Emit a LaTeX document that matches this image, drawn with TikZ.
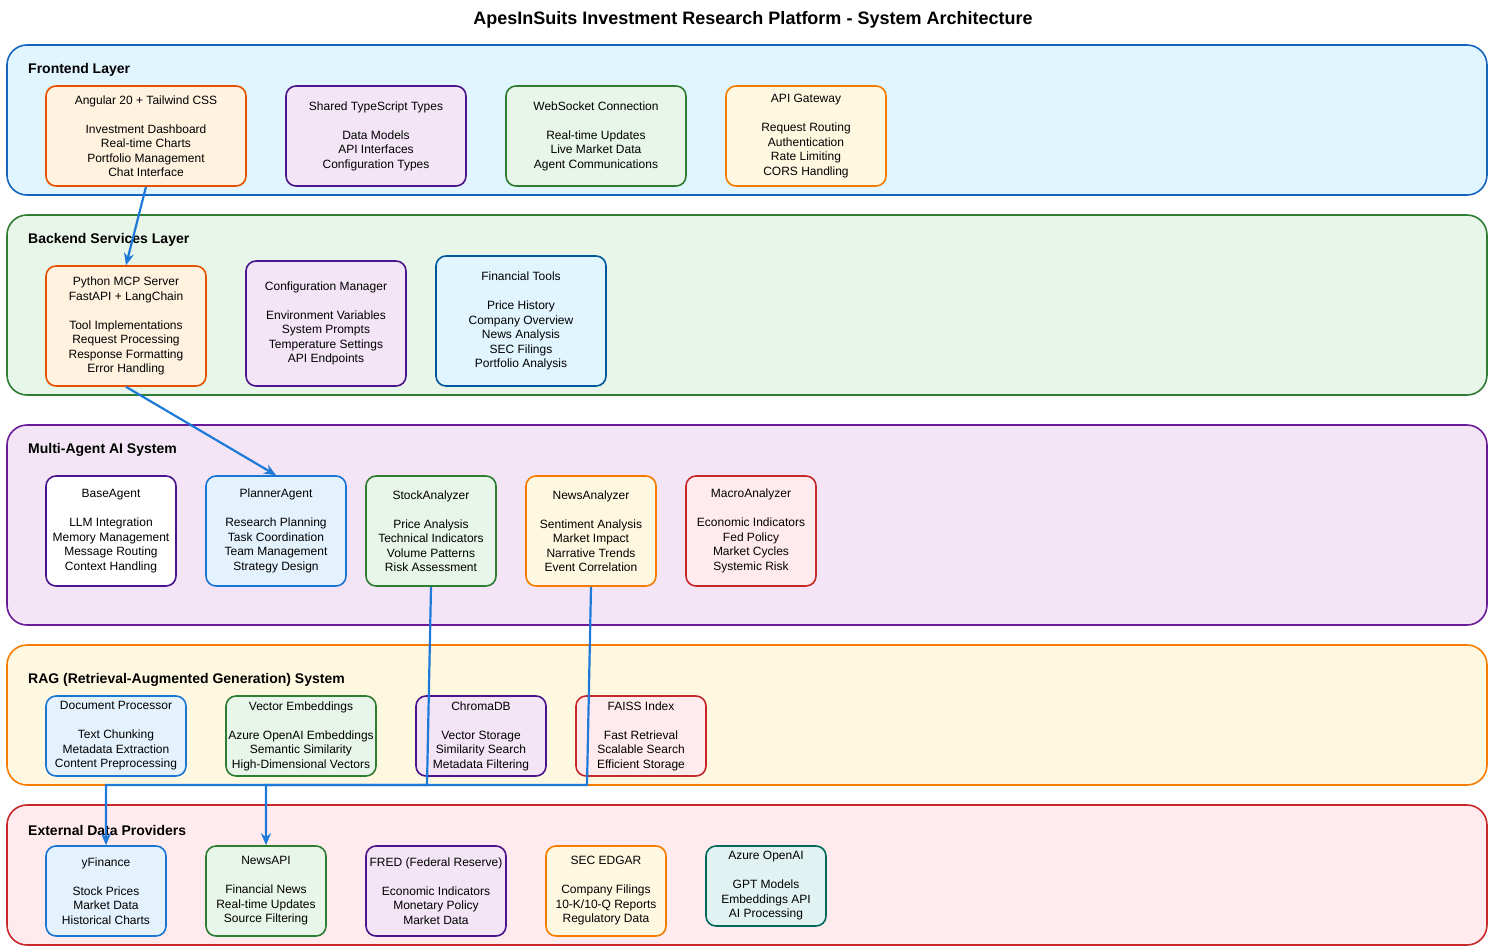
\documentclass[tikz,border=0pt]{standalone}
\usepackage{fontspec}
\setmainfont{Liberation Sans}
\usetikzlibrary{arrows.meta}

% layer colours
\definecolor{feF}{HTML}{E1F5FE}\definecolor{feB}{HTML}{1565C0}
\definecolor{beF}{HTML}{E8F5E9}\definecolor{beB}{HTML}{2E7D32}
\definecolor{maF}{HTML}{F3E5F5}\definecolor{maB}{HTML}{6A1B9A}
\definecolor{rgF}{HTML}{FFF8E1}\definecolor{rgB}{HTML}{F57C00}
\definecolor{exF}{HTML}{FFEBEE}\definecolor{exB}{HTML}{C62828}
% box colours
\definecolor{orgF}{HTML}{FFF3E0}\definecolor{orgB}{HTML}{E65100}
\definecolor{ambF}{HTML}{FFF8E1}\definecolor{ambB}{HTML}{F57C00}
\definecolor{purF}{HTML}{F3E5F5}\definecolor{purB}{HTML}{4A148C}
\definecolor{grnF}{HTML}{E8F5E9}\definecolor{grnB}{HTML}{2E7D32}
\definecolor{cyaF}{HTML}{E1F5FE}\definecolor{cyaB}{HTML}{01579B}
\definecolor{bluF}{HTML}{E3F2FD}\definecolor{bluB}{HTML}{1976D2}
\definecolor{redF}{HTML}{FFEBEE}\definecolor{redB}{HTML}{C62828}
\definecolor{tealF}{HTML}{E0F2F1}\definecolor{tealB}{HTML}{00695C}
\definecolor{flowC}{HTML}{1E7AD9}

\tikzset{
  layer/.style={rounded corners=20pt, line width=1.6pt},
  box/.style={rounded corners=10pt, line width=1.6pt, align=center, inner sep=0pt,
    font=\fontsize{12}{14.5}\selectfont},
  orgbox/.style={box, draw=orgB, fill=orgF},
  ambbox/.style={box, draw=ambB, fill=ambF},
  purbox/.style={box, draw=purB, fill=purF},
  grnbox/.style={box, draw=grnB, fill=grnF},
  cyabox/.style={box, draw=cyaB, fill=cyaF},
  blubox/.style={box, draw=bluB, fill=bluF},
  redbox/.style={box, draw=redB, fill=redF},
  tealbox/.style={box, draw=tealB, fill=tealF},
  whtbox/.style={box, draw=purB, fill=white},
  lbl/.style={anchor=west, inner sep=0pt, font=\bfseries\fontsize{14}{16}\selectfont},
  flow/.style={draw=flowC, line width=2.2pt, -{Stealth[length=12pt,width=10pt]}},
}

\begin{document}
\begin{tikzpicture}[x=1pt,y=-1pt]
  \useasboundingbox (0,0) rectangle (1492,951);

  \node[font=\bfseries\fontsize{18}{20}\selectfont] (title) at (753,20)
    {ApesInSuits Investment Research Platform - System Architecture};

  % layers
  \draw[layer, draw=feB, fill=feF] (7,45) rectangle (1487,195);
  \draw[layer, draw=beB, fill=beF] (7,215) rectangle (1487,395);
  \draw[layer, draw=maB, fill=maF] (7,425) rectangle (1487,625);
  \draw[layer, draw=rgB, fill=rgF] (7,645) rectangle (1487,785);
  \draw[layer, draw=exB, fill=exF] (7,805) rectangle (1487,945);

  \node[lbl] (feL) at (28,70) {Frontend Layer};
  \node[lbl] (beL) at (28,240) {Backend Services Layer};
  \node[lbl] (maL) at (28,450) {Multi-Agent AI System};
  \node[lbl] (rgL) at (28,680) {RAG (Retrieval-Augmented Generation) System};
  \node[lbl] (exL) at (28,830) {External Data Providers};

  % frontend
  \node[orgbox, minimum width=200pt, minimum height=100pt] (angular) at (146,136)
    {Angular 20 + Tailwind CSS\\[14.5pt]Investment Dashboard\\Real-time Charts\\Portfolio Management\\Chat Interface};
  \node[purbox, minimum width=180pt, minimum height=100pt] (types) at (376,136)
    {Shared TypeScript Types\\[14.5pt]Data Models\\API Interfaces\\Configuration Types};
  \node[grnbox, minimum width=180pt, minimum height=100pt] (socket) at (596,136)
    {WebSocket Connection\\[14.5pt]Real-time Updates\\Live Market Data\\Agent Communications};
  \node[ambbox, minimum width=160pt, minimum height=100pt] (gateway) at (806,136)
    {API Gateway\\[14.5pt]Request Routing\\Authentication\\Rate Limiting\\CORS Handling};

  % backend
  \node[orgbox, minimum width=160pt, minimum height=120pt] (mcp) at (126,326)
    {Python MCP Server\\FastAPI + LangChain\\[14.5pt]Tool Implementations\\Request Processing\\Response Formatting\\Error Handling};
  \node[purbox, minimum width=160pt, minimum height=125pt] (config) at (326,323.5)
    {Configuration Manager\\[14.5pt]Environment Variables\\System Prompts\\Temperature Settings\\API Endpoints};
  \node[cyabox, minimum width=170pt, minimum height=130pt] (tools) at (521,321)
    {Financial Tools\\[14.5pt]Price History\\Company Overview\\News Analysis\\SEC Filings\\Portfolio Analysis};

  % agents
  \node[whtbox, minimum width=130pt, minimum height=110pt] (base) at (111,531)
    {BaseAgent\\[14.5pt]LLM Integration\\Memory Management\\Message Routing\\Context Handling};
  \node[blubox, minimum width=140pt, minimum height=110pt] (planner) at (276,531)
    {PlannerAgent\\[14.5pt]Research Planning\\Task Coordination\\Team Management\\Strategy Design};
  \node[grnbox, minimum width=130pt, minimum height=110pt] (stock) at (431,531)
    {StockAnalyzer\\[14.5pt]Price Analysis\\Technical Indicators\\Volume Patterns\\Risk Assessment};
  \node[ambbox, minimum width=130pt, minimum height=110pt] (news) at (591,531)
    {NewsAnalyzer\\[14.5pt]Sentiment Analysis\\Market Impact\\Narrative Trends\\Event Correlation};
  \node[redbox, minimum width=130pt, minimum height=110pt] (macro) at (751,531)
    {MacroAnalyzer\\[14.5pt]Economic Indicators\\Fed Policy\\Market Cycles\\Systemic Risk};

  % rag
  \node[blubox, minimum width=140pt, minimum height=80pt] (docs) at (116,736)
    {Document Processor\\[14.5pt]Text Chunking\\Metadata Extraction\\Content Preprocessing};
  \node[grnbox, minimum width=150pt, minimum height=80pt] (embed) at (301,736)
    {Vector Embeddings\\[14.5pt]Azure OpenAI Embeddings\\Semantic Similarity\\High-Dimensional Vectors};
  \node[purbox, minimum width=130pt, minimum height=80pt] (chroma) at (481,736)
    {ChromaDB\\[14.5pt]Vector Storage\\Similarity Search\\Metadata Filtering};
  \node[redbox, minimum width=130pt, minimum height=80pt] (faiss) at (641,736)
    {FAISS Index\\[14.5pt]Fast Retrieval\\Scalable Search\\Efficient Storage};

  % external
  \node[blubox, minimum width=120pt, minimum height=90pt] (yfin) at (106,891)
    {yFinance\\[14.5pt]Stock Prices\\Market Data\\Historical Charts};
  \node[grnbox, minimum width=120pt, minimum height=90pt] (newsapi) at (266,891)
    {NewsAPI\\[14.5pt]Financial News\\Real-time Updates\\Source Filtering};
  \node[purbox, minimum width=140pt, minimum height=90pt] (fred) at (436,891)
    {FRED (Federal Reserve)\\[14.5pt]Economic Indicators\\Monetary Policy\\Market Data};
  \node[ambbox, minimum width=120pt, minimum height=90pt] (edgar) at (606,891)
    {SEC EDGAR\\[14.5pt]Company Filings\\10-K/10-Q Reports\\Regulatory Data};
  \node[tealbox, minimum width=120pt, minimum height=80pt] (azure) at (766,886)
    {Azure OpenAI\\[14.5pt]GPT Models\\Embeddings API\\AI Processing};

  % connectors
  \coordinate (stockBend) at (427,785);
  \coordinate (newsBend) at (587,785);
  \draw[flow] (angular.south) -- (mcp.north);
  \draw[flow] (mcp.south) -- (planner.north);
  \draw[flow] (stock.south) -- (stockBend) -| (yfin.north);
  \draw[flow] (news.south) -- (newsBend) -| (newsapi.north);
\end{tikzpicture}
\end{document}
